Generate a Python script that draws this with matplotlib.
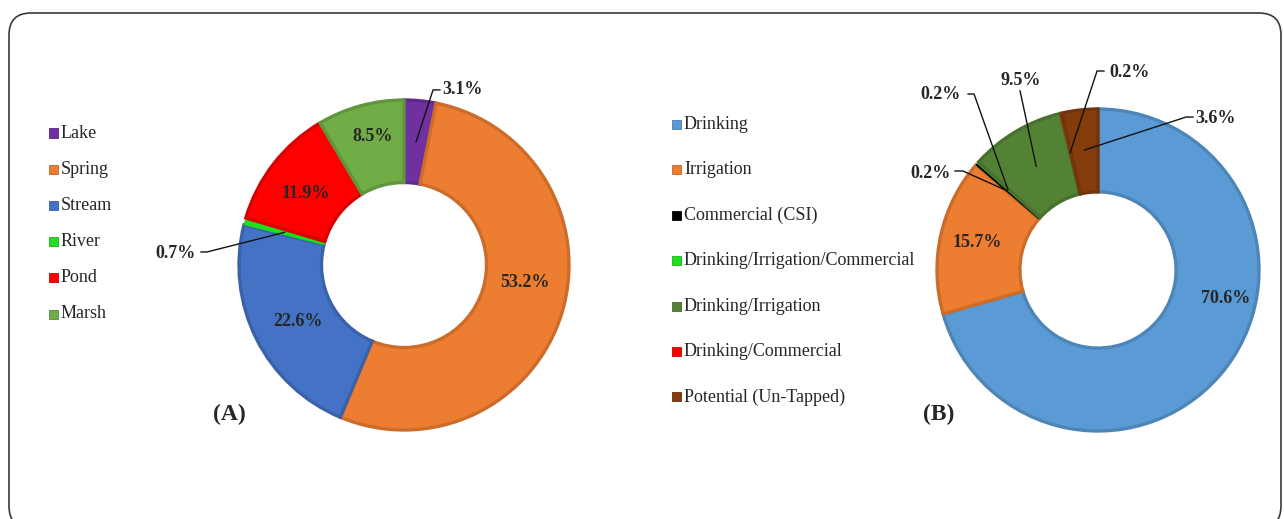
import matplotlib
matplotlib.use("Agg")
import matplotlib.pyplot as plt
import matplotlib.colors as mcolors
from matplotlib.patches import Rectangle, FancyBboxPatch
from matplotlib.transforms import IdentityTransform
import numpy as np

plt.rcParams.update({"font.family": ["Liberation Serif", "DejaVu Serif"],
                     "font.size": 13})
W, H = 1284, 519
TXT = "#262626"

# ---------------------------------------------------------------- data
a_labels = ["Lake", "Spring", "Stream", "River", "Pond", "Marsh"]
a_values = [3.1, 53.2, 22.6, 0.7, 11.9, 8.5]
a_colors = ["#7030A0", "#ED7D31", "#4472C4", "#1EE01E", "#FF0000", "#70AD47"]

b_labels = ["Drinking", "Irrigation", "Commercial (CSI)",
            "Drinking/Irrigation/Commercial", "Drinking/Irrigation",
            "Drinking/Commercial", "Potential (Un-Tapped)"]
b_values = [70.6, 15.7, 0.2, 0.2, 9.5, 0.2, 3.6]
b_colors = ["#5B9BD5", "#ED7D31", "#000000", "#1EE01E", "#548235",
            "#FF0000", "#843C0C"]

# label placement (pie units) and leader elbows
a_text_pos = [(0.352, 1.061), (0.733, -0.109), (-0.642, -0.345),
              (-1.382, 0.067), (-0.594, 0.436), (-0.188, 0.776)]
a_leaders = {0: [(0.218, 1.061), (0.176, 1.061)],
             3: [(-1.230, 0.079), (-1.194, 0.079)]}
b_text_pos = [(0.795, -0.174), (-0.752, 0.168), (-1.043, 0.602),
              (-0.975, 1.093), (-0.478, 1.174), (0.193, 1.224),
              (0.733, 0.938)]
b_leaders = {2: [(-0.888, 0.615), (-0.839, 0.615)],
             3: [(-0.807, 1.093), (-0.770, 1.093)],
             4: [(-0.484, 1.112)],
             5: [(0.037, 1.236), (-0.006, 1.236)],
             6: [(0.590, 0.950), (0.547, 0.950)]}


def darker(c, f=0.86):
    return tuple(np.array(mcolors.to_rgb(c)) * f)


def donut(fig, cx, cy, r, vals, cols, hole, text_pos, leaders, half=240):
    ax = fig.add_axes([(cx - half) / W, (H - cy - half) / H,
                       2 * half / W, 2 * half / H])
    wedges, _ = ax.pie(vals, colors=cols, startangle=90, counterclock=False,
                       wedgeprops=dict(width=1 - hole))
    for w, v, c in zip(wedges, vals, cols):
        w.set_edgecolor(darker(c))
        w.set_linewidth(2.4 if v >= 1 else 0.4)
    lim = half / r
    ax.set_xlim(-lim, lim)
    ax.set_ylim(-lim, lim)
    ax.axis("off")
    for i, (w, v) in enumerate(zip(wedges, vals)):
        tx, ty = text_pos[i]
        ax.text(tx, ty, f"{v:.1f}%", ha="center", va="center",
                fontweight="bold", fontsize=13, color=TXT)
        if i in leaders:
            mid = np.deg2rad((w.theta1 + w.theta2) / 2)
            pts = leaders[i] + [(0.75 * np.cos(mid), 0.75 * np.sin(mid))]
            xs, ys = zip(*pts)
            ax.plot(xs, ys, color="#111111", lw=1.0, clip_on=False)
    return ax


def legend(fig, labels, cols, x, y0, dy):
    for i, (lab, c) in enumerate(zip(labels, cols)):
        y = y0 + i * dy
        fig.patches.append(Rectangle((x / W, (H - y - 4.5) / H), 9 / W, 9 / H,
                                     transform=fig.transFigure,
                                     facecolor=c, edgecolor=darker(c, 0.8),
                                     lw=0.6))
        fig.text((x + 12) / W, (H - y) / H, lab, ha="left", va="center",
                 fontsize=13, color=TXT)


fig = plt.figure(figsize=(W / 100, H / 100), dpi=100)

# rounded frame round both panels
fig.patches.append(FancyBboxPatch((9, -9), 1272, 515,
                                  boxstyle="round,pad=0,rounding_size=22",
                                  transform=IdentityTransform(),
                                  facecolor="none", edgecolor="#3a3a3a",
                                  lw=1.2))

donut(fig, 404, 265, 165, a_values, a_colors, 0.50, a_text_pos, a_leaders)
donut(fig, 1098, 270, 161, b_values, b_colors, 0.485, b_text_pos, b_leaders)

legend(fig, a_labels, a_colors, 49, 133, 36.2)
legend(fig, b_labels, b_colors, 672, 124.5, 45.4)

fig.text(229 / W, (H - 414) / H, "(A)", ha="center", va="center",
         fontsize=17, fontweight="bold", color=TXT)
fig.text(939 / W, (H - 414) / H, "(B)", ha="center", va="center",
         fontsize=17, fontweight="bold", color=TXT)

fig.savefig("out.png", dpi=100, facecolor="white")
